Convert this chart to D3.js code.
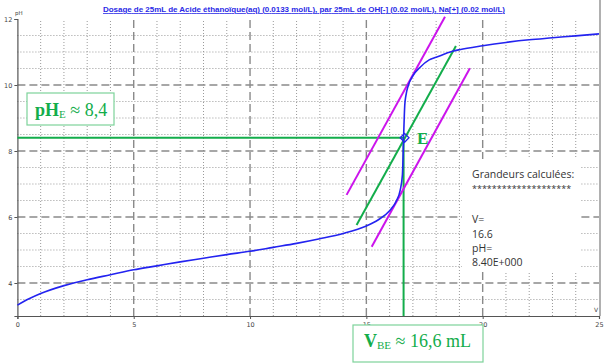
<!DOCTYPE html>
<html>
<head>
<meta charset="utf-8">
<script src="https://cdn.jsdelivr.net/npm/d3@7"></script>
<style>
  body { margin: 0; background: #fff; }
  svg { display: block; }
</style>
</head>
<body>
<div id="graf"></div>
<script>
volumes = [0, 0.5, 1, 2, 3, 4, 5, 6, 7, 8, 9, 10, 11, 12, 13, 14, 15, 15.5, 16, 16.3, 16.45, 16.55, 16.6, 16.65, 16.7, 16.8, 17, 17.3, 17.7, 18, 18.7, 19, 20, 21, 22, 23, 24, 25]
phValues = [3.33, 3.52, 3.68, 3.92, 4.1, 4.25, 4.4, 4.52, 4.64, 4.75, 4.86, 4.96, 5.08, 5.2, 5.34, 5.5, 5.73, 5.91, 6.19, 6.5, 6.8, 7.28, 8.4, 9.38, 9.68, 9.98, 10.28, 10.53, 10.76, 10.84, 11.02, 11.07, 11.19, 11.29, 11.37, 11.43, 11.49, 11.55]

// Tangentes et parallèle (V, pH)
tangenteHaut = [[14.15, 6.67], [18.38, 12.07]]
tangenteBas = [[15.23, 5.10], [19.45, 10.51]]
parallele = [[14.58, 5.76], [18.85, 11.18]]

// Point d'équivalence
equivV = 16.6
equivPH = 8.4

xTicks = [0, 5, 10, 15, 20, 25]
yTicks = [4, 6, 8, 10, 12]
resultats = ['Grandeurs calculées:', '********************', '', 'V=', '16.6', 'pH=', '8.40E+000']

titre = 'Dosage de 25mL de Acide éthanoïque(aq) (0.0133 mol/L),  par 25mL  de OH[-] (0.02 mol/L), Na[+] (0.02 mol/L)'

ancho_total = 605
alto_total = 364
vert = '#13ad4b'
magenta = '#cc14ec'
bleu = '#2323f0'

svg = d3.select('#graf').append('svg')
  .attr('width', ancho_total)
  .attr('height', alto_total)

x = d3.scaleLinear().domain([0, 25]).range([17.4, 599])
y = d3.scaleLinear().domain([3, 12]).range([316, 19])

// Grille secondaire (pointillés)
grille = svg.append('g')
d3.range(0, 25.01, 1).filter(v => v % 5 != 0).forEach(v => {
  grille.append('line')
    .attr('x1', x(v)).attr('x2', x(v)).attr('y1', y(3)).attr('y2', y(12))
    .attr('stroke', '#9a9a9a').attr('stroke-width', 1).attr('stroke-dasharray', '1,2')
})
d3.range(3.5, 12.01, 0.5).filter(p => p % 2 != 0).forEach(p => {
  grille.append('line')
    .attr('x1', x(0)).attr('x2', x(25)).attr('y1', y(p)).attr('y2', y(p))
    .attr('stroke', '#9a9a9a').attr('stroke-width', 1).attr('stroke-dasharray', '1,2')
})
// Grille principale (tirets)
xTicks.filter(v => v > 0 && v < 25).forEach(v => {
  grille.append('line')
    .attr('x1', x(v)).attr('x2', x(v)).attr('y1', y(3)).attr('y2', y(12))
    .attr('stroke', '#8a8a8a').attr('stroke-width', 1.4).attr('stroke-dasharray', '8,4')
})
yTicks.filter(p => p < 12).forEach(p => {
  grille.append('line')
    .attr('x1', x(0)).attr('x2', x(25)).attr('y1', y(p)).attr('y2', y(p))
    .attr('stroke', '#8a8a8a').attr('stroke-width', 1.4).attr('stroke-dasharray', '8,4')
})

// Bord droit
svg.append('rect')
  .attr('x', 599).attr('y', 0).attr('width', 2).attr('height', y(3))
  .attr('fill', '#b0b0b0')

// Axes
xAxis = svg.append('g')
  .attr('transform', `translate(0, ${y(3)})`)
  .call(d3.axisBottom(x).tickValues(xTicks).tickSize(3).tickPadding(3))
yAxis = svg.append('g')
  .attr('transform', `translate(${x(0)}, 0)`)
  .call(d3.axisLeft(y).tickValues(yTicks).tickSize(3).tickPadding(2))
svg.selectAll('.domain').attr('stroke', '#555').attr('stroke-width', 1.2)
svg.selectAll('.tick line').attr('stroke', '#555')
svg.selectAll('.tick text')
  .attr('font-family', 'DejaVu Sans')
  .attr('font-size', '6.5px')
  .attr('fill', '#444')

svg.append('text')
  .attr('x', 15).attr('y', 15)
  .attr('font-family', 'DejaVu Sans').attr('font-size', '5.5px').attr('fill', '#444')
  .text('pH')
svg.append('text')
  .attr('x', 594).attr('y', 312)
  .attr('font-family', 'DejaVu Sans').attr('font-size', '6px').attr('fill', '#444')
  .text('V')

// Titre
svg.append('text')
  .attr('x', 304).attr('y', 12)
  .attr('text-anchor', 'middle')
  .attr('font-family', 'Liberation Sans')
  .attr('font-weight', 'bold')
  .attr('font-size', '8px')
  .attr('fill', '#2a2ae6')
  .attr('text-decoration', 'underline')
  .attr('textLength', 402)
  .text(titre)

// Cadre des grandeurs calculées
svg.append('rect')
  .attr('x', 462).attr('y', 159).attr('width', 119).attr('height', 113)
  .attr('fill', '#fff')
resultats.forEach((t, i) => {
  svg.append('text')
    .attr('x', 472)
    .attr('y', 178 + i * 14.4 + (i > 1 ? 2 : 0))
    .attr('font-family', 'Open Sans')
    .attr('font-size', i == 1 ? '9px' : '10.5px')
    .attr('fill', '#333')
    .text(t)
})

// Courbe pH = f(V)
points = volumes.map((v, i) => [v, phValues[i]])
courbe = d3.line()
  .x(d => x(d[0]))
  .y(d => y(d[1]))
  .curve(d3.curveMonotoneX)

droite = d3.line().x(d => x(d[0])).y(d => y(d[1]))

// Lignes de lecture du point E
svg.append('line')
  .attr('x1', x(0)).attr('x2', x(equivV)).attr('y1', y(equivPH)).attr('y2', y(equivPH))
  .attr('stroke', vert).attr('stroke-width', 2)
svg.append('line')
  .attr('x1', x(equivV)).attr('x2', x(equivV)).attr('y1', y(equivPH)).attr('y2', y(3))
  .attr('stroke', vert).attr('stroke-width', 2)

;[tangenteHaut, tangenteBas].forEach(t => {
  svg.append('path').attr('d', droite(t))
    .attr('fill', 'none').attr('stroke', magenta).attr('stroke-width', 2)
})
svg.append('path').attr('d', droite(parallele))
  .attr('fill', 'none').attr('stroke', vert).attr('stroke-width', 2)

svg.append('path')
  .datum(points)
  .attr('d', courbe)
  .attr('fill', 'none')
  .attr('stroke', bleu)
  .attr('stroke-width', 1.6)

// Marqueur losange au point E
svg.append('path')
  .attr('d', d3.symbol().type(d3.symbolDiamond2).size(50)())
  .attr('transform', `translate(${x(equivV) + 1}, ${y(equivPH)}) rotate(0)`)
  .attr('fill', 'none').attr('stroke', bleu).attr('stroke-width', 1.3)

svg.append('text')
  .attr('x', 417).attr('y', 144)
  .attr('font-family', 'Liberation Serif')
  .attr('font-weight', 'bold')
  .attr('font-size', '17px')
  .attr('fill', vert)
  .text('E')

// Étiquette pHE
svg.append('rect')
  .attr('x', 27).attr('y', 93).attr('width', 87).attr('height', 32)
  .attr('fill', '#fff').attr('stroke', '#7dd39a').attr('stroke-width', 1.2)
lab1 = svg.append('text')
  .attr('x', 35).attr('y', 116)
  .attr('font-family', 'Liberation Serif')
  .attr('font-size', '18px')
  .attr('fill', vert)
lab1.append('tspan').attr('font-weight', 'bold').text('pH')
lab1.append('tspan').attr('font-size', '11px').attr('dy', 2).text('E')
lab1.append('tspan').attr('dy', -2).text(' ≈ 8,4')

// Étiquette VBE
svg.append('rect')
  .attr('x', 353).attr('y', 325).attr('width', 130).attr('height', 37)
  .attr('fill', '#fff').attr('stroke', '#7dd39a').attr('stroke-width', 1.2)
lab2 = svg.append('text')
  .attr('x', 364).attr('y', 347)
  .attr('font-family', 'Liberation Serif')
  .attr('font-size', '18px')
  .attr('fill', vert)
lab2.append('tspan').attr('font-weight', 'bold').text('V')
lab2.append('tspan').attr('font-size', '11px').attr('dy', 2).text('BE')
lab2.append('tspan').attr('dy', -2).text(' ≈ 16,6 mL')
</script>
</body>
</html>
